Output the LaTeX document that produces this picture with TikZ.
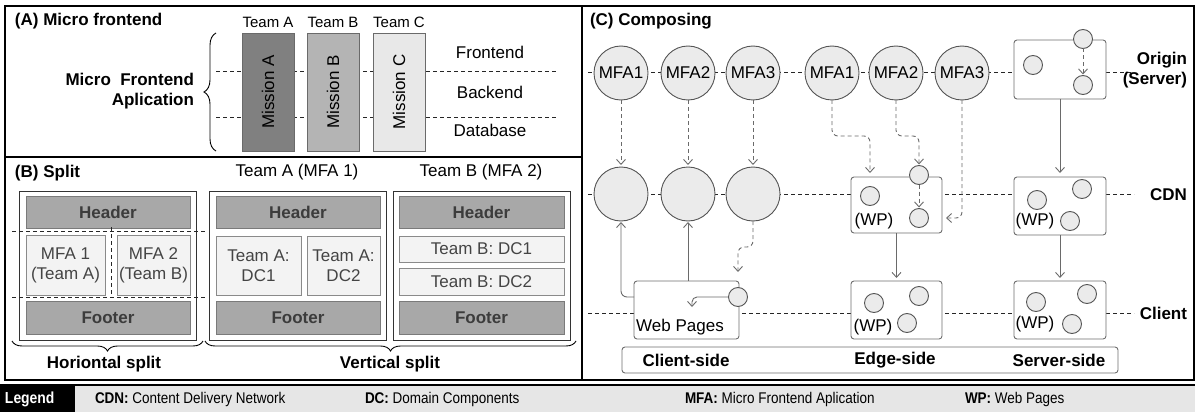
\documentclass[tikz,border=0pt]{standalone}
\usepackage{fontspec}
\setmainfont{Liberation Sans}
\usetikzlibrary{arrows.meta,decorations.pathreplacing,calc}
\newcommand\fsz{\fontsize{17}{20}\selectfont}
\newcommand\legsq[1]{\scalebox{0.87}[1]{#1}}
\definecolor{circfill}{HTML}{EBEBEB}
\definecolor{circline}{HTML}{555555}
\definecolor{cboxline}{HTML}{6E6E6E}
\definecolor{connc}{HTML}{6A6A6A}
\definecolor{missA}{HTML}{808080}
\definecolor{missB}{HTML}{B4B4B4}
\definecolor{missC}{HTML}{E8E8E8}
\definecolor{missline}{HTML}{6A6A6A}
\definecolor{hdrfill}{HTML}{A8A8A8}
\definecolor{hdrline}{HTML}{7A7A7A}
\definecolor{hdrtext}{HTML}{3C3C3C}
\definecolor{infill}{HTML}{F3F3F3}
\definecolor{inline}{HTML}{8A8A8A}
\definecolor{intext}{HTML}{444444}
\definecolor{legendbg}{HTML}{E6E6E6}
\begin{document}
\begin{tikzpicture}[x=1pt,y=-1pt,
  every node/.style={font=\fsz,inner sep=0pt,outer sep=0pt},
  frameline/.style={draw=black,line width=1.3pt},
  mission/.style={draw=missline,line width=0.8pt,minimum width=52pt,minimum height=118pt},
  btxt/.style={font=\fsz\bfseries},
  hdrbox/.style={draw=hdrline,fill=hdrfill,line width=0.8pt,minimum width=164pt,minimum height=32pt,font=\fsz\bfseries,text=hdrtext},
  inbox/.style={draw=inline,fill=infill,line width=0.8pt,text=intext,align=center},
  outbox/.style={draw=black!80,line width=1pt,fill=white,minimum width=177pt,minimum height=149pt},
  rowline/.style={dash pattern=on 4pt off 3pt,line width=0.9pt,draw=black!85},
  bigc/.style={circle,draw=circline,fill=circfill,line width=0.9pt,minimum size=54pt},
  smc/.style={circle,draw=circline,fill=circfill,line width=0.9pt,minimum size=19pt},
  cbox/.style={draw=cboxline,fill=white,rounded corners=3pt,line width=0.9pt},
  conn/.style={draw=connc,line width=0.9pt,-{Straight Barb[length=5pt,width=9pt]}},
  dconn/.style={conn,dash pattern=on 4pt off 3pt},
  brc/.style={decorate,decoration={brace,amplitude=10pt},line width=0.9pt},
  legtxt/.style={font=\fontsize{15.5}{18}\selectfont,anchor=west},
]
\useasboundingbox (0,0) rectangle (1195,412);

% ---------- frame ----------
\draw[frameline] (5,6) rectangle (1194,380);
\draw[frameline] (5,157) -- (582,157);
\draw[frameline] (582,6) -- (582,380);

% ---------- (A) ----------
\node[btxt,anchor=west] (titleA) at (15,21) {(A) Micro frontend};
\coordinate (aL1) at (216,71); \coordinate (aR1) at (556,71);
\coordinate (aL2) at (216,117); \coordinate (aR2) at (556,117);
\draw[rowline] (aL1) -- (aR1);
\draw[rowline] (aL2) -- (aR2);
\node[mission,fill=missA] (missionA) at (268,92) {\rotatebox{90}{Mission A}};
\node[mission,fill=missB] (missionB) at (333,92) {\rotatebox{90}{Mission B}};
\node[mission,fill=missC] (missionC) at (399,92) {\rotatebox{90}{Mission C}};
\node[font=\fontsize{15}{18}\selectfont] (teamA) at (268,22) {Team A};
\node[font=\fontsize{15}{18}\selectfont] (teamB) at (333,22) {Team B};
\node[font=\fontsize{15}{18}\selectfont] (teamC) at (399,22) {Team C};
\node (fe) at (490,52) {Frontend};
\node (be) at (490,92) {Backend};
\node (db) at (490,130) {Database};
\coordinate (bA1) at (216,151); \coordinate (bA2) at (216,33);
\draw[brc,decoration={brace,amplitude=12pt}] (bA1) -- (bA2);
\node[btxt,align=right,anchor=east] (mfaapp) at (194,91) {Micro~ Frontend\\Aplication};

% ---------- (B) ----------
\node[btxt,anchor=west] (titleB) at (15,173) {(B) Split};
\node[outbox] (hsplit) at (108,265.5) {};
\node[hdrbox] (hhead) at (108,212) {Header};
\node[inbox,minimum width=79pt,minimum height=60pt] (hmfa1) at (65.5,265) {MFA 1\\(Team A)};
\node[inbox,minimum width=73pt,minimum height=60pt] (hmfa2) at (153.5,265) {MFA 2\\(Team B)};
\node[hdrbox,minimum height=33pt] (hfoot) at (108,317.5) {Footer};
\coordinate (hd1l) at (12,231); \coordinate (hd1r) at (206,231);
\coordinate (hd2l) at (12,297); \coordinate (hd2r) at (206,297);
\coordinate (hvt) at (111.5,227); \coordinate (hvb) at (111.5,297);
\draw[rowline] (hd1l) -- (hd1r);
\draw[rowline] (hd2l) -- (hd2r);
\draw[rowline] (hvt) -- (hvb);

\node (lblTA) at (297,172) {Team A (MFA 1)};
\node (lblTB) at (481,172) {Team B (MFA 2)};
\node[outbox] (ta) at (297.5,265.5) {};
\node[hdrbox] (tahead) at (298,212) {Header};
\node[inbox,minimum width=85pt,minimum height=59pt] (tadc1) at (258.5,265.5) {Team A:\\DC1};
\node[inbox,minimum width=73pt,minimum height=59pt] (tadc2) at (343.5,265.5) {Team A:\\DC2};
\node[hdrbox,minimum height=33pt] (tafoot) at (298,317.5) {Footer};
\node[outbox] (tb) at (481.5,265.5) {};
\node[hdrbox,minimum width=165pt] (tbhead) at (481.5,212) {Header};
\node[inbox,minimum width=165pt,minimum height=26pt] (tbdc1) at (481.5,249) {Team B: DC1};
\node[inbox,minimum width=165pt,minimum height=27pt] (tbdc2) at (481.5,281.5) {Team B: DC2};
\node[hdrbox,minimum width=165pt,minimum height=33pt] (tbfoot) at (481.5,317.5) {Footer};

\coordinate (hb1) at (203,341); \coordinate (hb2) at (12,341);
\coordinate (vb1) at (576,341); \coordinate (vb2) at (205,341);
\draw[brc] (hb1) -- (hb2);
\draw[brc] (vb1) -- (vb2);
\node[btxt] (hsplitlbl) at (104,364) {Horiontal split};
\node[btxt] (vsplitlbl) at (390,364) {Vertical split};

% ---------- (C) ----------
\node[btxt,anchor=west] (titleC) at (590,21) {(C) Composing};
\coordinate (rOl) at (588,72); \coordinate (rOr) at (1134,72);
\coordinate (rCl) at (588,194); \coordinate (rCr) at (1134,194);
\coordinate (rKl) at (588,313); \coordinate (rKr) at (1134,313);
\draw[rowline] (rOl) -- (rOr);
\draw[rowline] (rCl) -- (rCr);
\draw[rowline] (rKl) -- (rKr);

\node[bigc] (cm1) at (621,73) {MFA1};
\node[bigc] (cm2) at (688,73) {MFA2};
\node[bigc] (cm3) at (753,73) {MFA3};
\node[bigc] (em1) at (832,73) {MFA1};
\node[bigc] (em2) at (896,73) {MFA2};
\node[bigc] (em3) at (962,73) {MFA3};
\node[bigc] (cc1) at (621,194) {};
\node[bigc] (cc2) at (688,194) {};
\node[bigc] (cc3) at (753,194) {};

\node[cbox,minimum width=92pt,minimum height=59pt] (obox) at (1060,69.5) {};
\node[smc] (o1) at (1033,65) {};
\node[smc] (oTop) at (1083,39) {};
\node[smc] (oBot) at (1083,85) {};

\node[cbox,minimum width=91pt,minimum height=56pt] (ebox1) at (896.5,205) {};
\node[smc] (e1) at (870,196) {};
\node[smc] (eTop) at (919,175) {};
\node[smc] (eBot) at (919,218) {};
\node (wp1) at (874,221) {(WP)};

\node[cbox,minimum width=92pt,minimum height=58pt] (sbox1) at (1060,206) {};
\node[smc] (s1) at (1037,200) {};
\node[smc] (s2) at (1082,189) {};
\node[smc] (s3) at (1070,221) {};
\node (wp2) at (1035,221) {(WP)};

\node[cbox,minimum width=105pt,minimum height=58pt] (wbox) at (686.5,310) {};
\node[smc] (wc) at (738,297) {};
\node (wtext) at (680,327) {Web Pages};
\coordinate (wtip) at (692,307);

\node[cbox,minimum width=91pt,minimum height=58pt] (ebox2) at (896.5,310) {};
\node[smc] (ec1) at (874,303) {};
\node[smc] (ec2) at (919,296) {};
\node[smc] (ec3) at (907,323) {};
\node (wp3) at (873,327) {(WP)};

\node[cbox,minimum width=92pt,minimum height=58pt] (sbox2) at (1060,310) {};
\node[smc] (sc1) at (1036,302) {};
\node[smc] (sc2) at (1087,294) {};
\node[smc] (sc3) at (1072,324) {};
\node (wp4) at (1035,324) {(WP)};

\node[btxt,align=right,anchor=east] (origin) at (1187,70) {Origin\\(Server)};
\node[btxt,anchor=east] (cdn) at (1187,195) {CDN};
\node[btxt,anchor=east] (client) at (1187,313) {Client};

% connectors
\draw[dconn,shorten >=2pt] (cm1) -- (cc1);
\draw[dconn,shorten >=2pt] (cm2) -- (cc2);
\draw[dconn,shorten >=2pt] (cm3) -- (cc3);
\draw[dconn,rounded corners=6pt,shorten >=4pt] (em1.south) -- ++(0,36) -| (e1 |- ebox1.north);
\draw[dconn,rounded corners=6pt,shorten >=1pt] (em2.south) -- ++(0,36) -| (eTop.north);
\draw[dconn,rounded corners=6pt,shorten >=4pt] (em3.south) |- (ebox1.east |- eBot);
\draw[dconn,shorten >=1pt] (oTop) -- (oBot);
\draw[dconn,shorten >=1pt] (eTop) -- (eBot);
\draw[conn,shorten >=4pt] (obox.south) -- (sbox1.north);
\draw[conn,shorten >=3pt] (ebox1.south) -- (ebox2.north);
\draw[conn,shorten >=3pt] (sbox1.south) -- (sbox2.north);
\draw[dconn,rounded corners=6pt,shorten >=9pt] (cc3.south) -- ++(0,26) -| (wc |- wbox.north);
\draw[conn,rounded corners=6pt,shorten >=1pt] (wbox.west |- wc) -| (cc1.south);
\draw[conn,shorten >=1pt] (wbox.north -| cc2) -- (cc2.south);
\draw[conn,rounded corners=5pt] (wc.west) -| (wtip);

\node[cbox,minimum width=496pt,minimum height=26pt] (sidebar) at (870,360) {};
\node[btxt] (clside) at (686,360) {Client-side};
\node[btxt] (edside) at (895,360) {Edge-side};
\node[btxt] (svside) at (1059,360) {Server-side};

% ---------- legend ----------
\fill[legendbg] (0,386) rectangle (1195,412);
\fill[black] (0,386) rectangle (75,412);
\draw[black,line width=1.2pt] (0,385) -- (1195,385);
\node[legtxt,font=\fontsize{16}{18}\selectfont\bfseries,text=white] (leg) at (5,399) {\legsq{Legend}};
\node[legtxt] (legcdn) at (95,399) {\legsq{\textbf{CDN:} Content Delivery Network}};
\node[legtxt] (legdc) at (365,399) {\legsq{\textbf{DC:} Domain Components}};
\node[legtxt] (legmfa) at (685,399) {\legsq{\textbf{MFA:} Micro Frontend Aplication}};
\node[legtxt] (legwp) at (965,399) {\legsq{\textbf{WP:} Web Pages}};
\end{tikzpicture}
\end{document}
